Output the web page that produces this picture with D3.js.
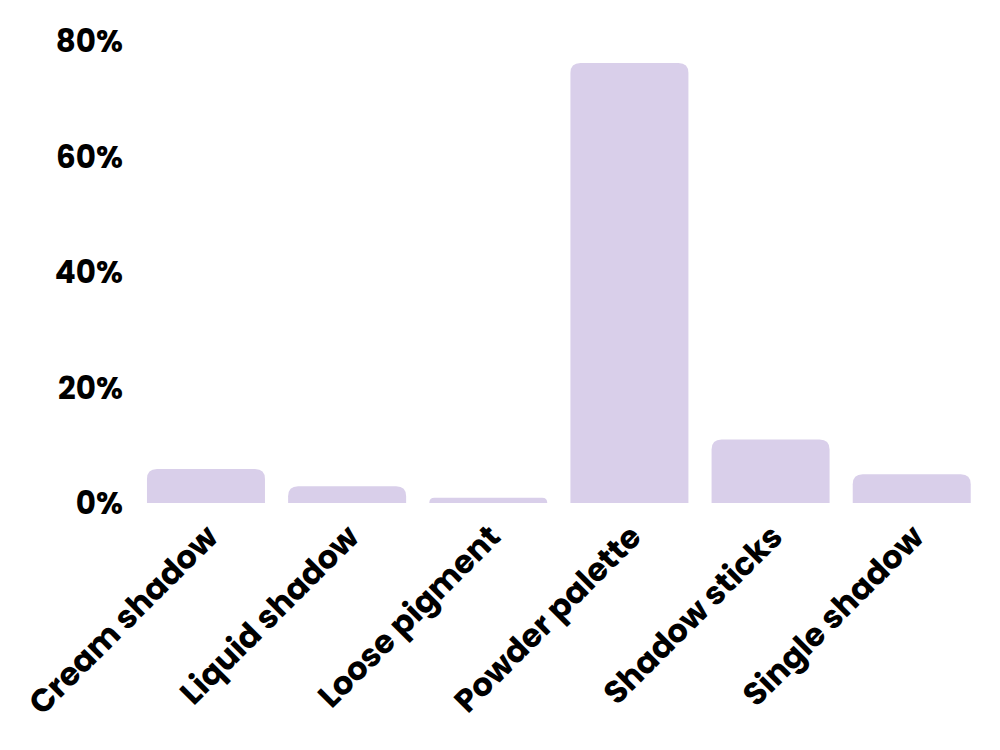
<!DOCTYPE html>
<html><head><meta charset="utf-8">
<script src="https://cdn.jsdelivr.net/npm/d3@7"></script>
<style>
html,body{margin:0;padding:0;background:#fff;}
text{font-family:Poppins,Inter,"Open Sans",sans-serif;font-weight:700;fill:#000;}
</style></head>
<body><svg id="c" width="1000" height="750"></svg>
<script>
const categories = ["Cream shadow","Liquid shadow","Loose pigment","Powder palette","Shadow sticks","Single shadow"];
const values = [5.9, 2.9, 0.9, 76.2, 11.0, 5.0];
const tickValues = [0, 20, 40, 60, 80];
const tickLabels = ["0%","20%","40%","60%","80%"];

const svg = d3.select("#c");
const x = d3.scaleBand().domain(categories).range([135.4, 982.3]).paddingInner(0.164).paddingOuter(0.082);
const y = d3.scaleLinear().domain([0, 80]).range([503, 41]);

const r = 10;
function barPath(d, i) {
  const x0 = x(categories[i]), w = x.bandwidth();
  const y0 = y(0), y1 = y(d);
  const h = y0 - y1;
  const rr = Math.min(r, h, w / 2);
  return `M${x0},${y0}L${x0},${y1 + rr}Q${x0},${y1} ${x0 + rr},${y1}L${x0 + w - rr},${y1}Q${x0 + w},${y1} ${x0 + w},${y1 + rr}L${x0 + w},${y0}Z`;
}
svg.append("g").selectAll("path").data(values).join("path")
  .attr("d", barPath).attr("fill", "#d9cfea");

const yAxis = d3.axisLeft(y).tickValues(tickValues).tickFormat((d, i) => tickLabels[i]).tickSize(0).tickPadding(0);
const gy = svg.append("g").attr("transform", "translate(123,0)").call(yAxis);
gy.select(".domain").remove();
gy.selectAll("text").style("font-size", "31px").attr("dy", "0.35em");

const xAxis = d3.axisBottom(x).tickSize(0).tickPadding(0);
const gx = svg.append("g").attr("transform", "translate(0,503)").call(xAxis);
gx.select(".domain").remove();
gx.selectAll("text").style("font-size", "32px")
  .attr("text-anchor", "end")
  .attr("transform", "translate(-2,20) rotate(-45)")
  .attr("dy", "0.7em").attr("y", 0).attr("x", 0);
</script></body></html>
